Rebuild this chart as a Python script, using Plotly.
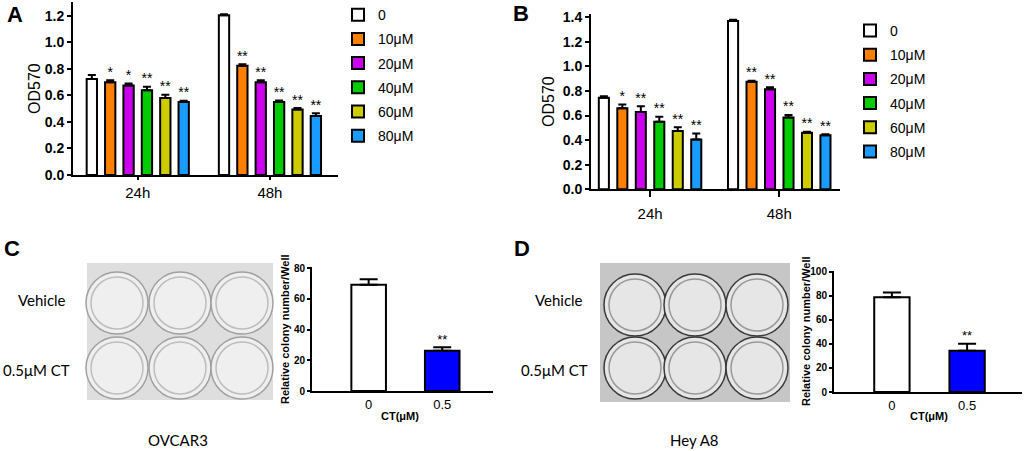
import plotly.graph_objects as go

W, H = 1024, 451

# ---- data -------------------------------------------------------------
doses = ["0", "10μM", "20μM", "40μM", "60μM", "80μM"]
dose_colors = ["#ffffff", "#ff8000", "#cc00ee", "#00cc00", "#cccc00", "#1a9cff"]
times = ["24h", "48h"]

# panel A (OVCAR3), rows = dose, cols = time
a_mean = [[0.725, 1.205], [0.70, 0.825], [0.675, 0.70],
          [0.64, 0.55], [0.58, 0.495], [0.55, 0.445]]
a_err = [[0.03, 0.008], [0.015, 0.01], [0.015, 0.015],
         [0.025, 0.012], [0.025, 0.01], [0.01, 0.02]]
a_stars = [["", ""], ["*", "**"], ["*", "**"], ["**", "**"], ["**", "**"], ["**", "**"]]

# panel B (Hey A8)
b_mean = [[0.745, 1.37], [0.66, 0.875], [0.63, 0.815],
          [0.55, 0.585], [0.475, 0.46], [0.405, 0.44]]
b_err = [[0.012, 0.01], [0.03, 0.008], [0.045, 0.015],
         [0.04, 0.02], [0.03, 0.008], [0.05, 0.008]]
b_stars = a_stars[:1] + [["*", "**"]] + [["**", "**"]] * 4

# panels C / D colony counts
ct_dose = ["0", "0.5"]
ct_colors = ["#ffffff", "#0000ff"]
c_mean = [69.2, 26.3]
c_err = [3.6, 2.2]
d_mean = [78.8, 34.2]
d_err = [4.0, 6.0]
cd_stars = ["", "**"]


def px(x):
    return x / W


def py(y):
    return 1 - y / H


FONT = "Arial, Liberation Sans, sans-serif"
fig = go.Figure()


def grouped(mean, err, stars, xa, ya, leg, slot):
    for i, name in enumerate(doses):
        xs = [g + (i - 2.5) * slot for g in range(len(times))]
        fig.add_trace(go.Bar(
            x=xs, y=mean[i], width=0.078, name=name, xaxis=xa, yaxis=ya,
            marker=dict(color=dose_colors[i], line=dict(color="black", width=2)),
            error_y=dict(type="data", symmetric=False, array=err[i],
                         arrayminus=[0, 0], color="black", thickness=2, width=4),
            legend=leg, legendgroup=leg + name))
        fig.add_trace(go.Scatter(
            x=xs, y=[m + e for m, e in zip(mean[i], err[i])], text=stars[i],
            mode="text", textposition="top center", xaxis=xa, yaxis=ya,
            textfont=dict(size=14, color="black", family=FONT),
            showlegend=False, hoverinfo="skip"))


grouped(a_mean, a_err, a_stars, "x", "y", "legend", 0.139)
grouped(b_mean, b_err, b_stars, "x2", "y2", "legend2", 0.143)


def colony(mean, err, xa, ya):
    fig.add_trace(go.Bar(
        x=[0, 1], y=mean, width=0.47, xaxis=xa, yaxis=ya, showlegend=False,
        marker=dict(color=ct_colors, line=dict(color="black", width=2)),
        error_y=dict(type="data", symmetric=False, array=err,
                     arrayminus=[0, 0], color="black", thickness=2, width=9)))
    fig.add_trace(go.Scatter(
        x=[0, 1], y=[m + e for m, e in zip(mean, err)], text=cd_stars,
        mode="text", textposition="top center", xaxis=xa, yaxis=ya,
        textfont=dict(size=13, color="black", family=FONT),
        showlegend=False, hoverinfo="skip"))


colony(c_mean, c_err, "x3", "y3")
colony(d_mean, d_err, "x4", "y4")

axis_common = dict(showline=True, linecolor="black", linewidth=2, ticks="outside",
                   tickcolor="black", tickwidth=2, showgrid=False, zeroline=False,
                   automargin=False)


def xaxis(x0, x1, anchor, rng, ticktext, size, ticklen, standoff):
    return dict(axis_common, domain=[px(x0), px(x1)], anchor=anchor, range=rng,
                tickvals=list(range(len(ticktext))), ticktext=ticktext, ticklen=ticklen,
                ticklabelstandoff=standoff,
                tickfont=dict(size=size, color="black", family=FONT))


def yaxis(y0, y1, anchor, rng, dtick, size, fmt, ticklen=4):
    return dict(axis_common, domain=[py(y0), py(y1)], anchor=anchor, range=rng,
                dtick=dtick, tickformat=fmt, ticklen=ticklen,
                tickfont=dict(size=size, color="black", family=FONT, weight="bold"))


legend_style = dict(xanchor="left", yanchor="top", font=dict(size=14, family=FONT),
                    bgcolor="rgba(0,0,0,0)", itemclick=False, tracegroupgap=3)

fig.update_layout(
    width=W, height=H, margin=dict(l=0, r=0, t=0, b=0, autoexpand=False),
    paper_bgcolor="white", plot_bgcolor="white", barmode="overlay",
    font=dict(family=FONT, color="black"),
    xaxis=xaxis(73, 338, "y", [-0.49, 1.515], times, 15, 3, 0),
    yaxis=yaxis(175, 2, "x", [0, 1.305], 0.2, 14, ".1f"),
    xaxis2=xaxis(591, 840, "y2", [-0.457, 1.47], times, 15, 6, 4),
    yaxis2=yaxis(189.3, 13.6, "x2", [0, 1.43], 0.2, 14, ".1f"),
    xaxis3=xaxis(312, 493, "y3", [-0.77, 1.69], ct_dose, 13, 0, 0),
    yaxis3=yaxis(391, 266.7, "x3", [0, 81], 20, 10, "d", 3),
    xaxis4=xaxis(834, 1022, "y4", [-0.77, 1.73], ct_dose, 13, 0, 0),
    yaxis4=yaxis(392, 270.5, "x4", [0, 101], 20, 10, "d", 3),
    legend=dict(legend_style, x=px(338), y=1.002),
    legend2=dict(legend_style, x=px(850), y=0.967),
)

# axis titles and panel letters as paper annotations
titles = [
    ("OD570", 35, 89, -90, 16, "normal"),
    ("OD570", 548, 102, -90, 16, "normal"),
    ("Relative colony number/Well", 285, 329, -90, 11, "bold"),
    ("Relative colony number/Well", 806, 331, -90, 11, "bold"),
    ("CT(μM)", 400, 416, 0, 11, "bold"),
    ("CT(μM)", 929, 416, 0, 11, "bold"),
    ("A", 15, 15, 0, 22, "bold"),
    ("B", 521, 14, 0, 22, "bold"),
    ("C", 12, 248, 0, 22, "bold"),
    ("D", 522, 248, 0, 22, "bold"),
]
for text, x, y, angle, size, weight in titles:
    fig.add_annotation(text=text, x=px(x), y=py(y), xref="paper", yref="paper",
                       xanchor="center", yanchor="middle", showarrow=False, textangle=angle,
                       font=dict(size=size, family=FONT, weight=weight, color="black"))

# well plate pictures (drawn as simple shapes)
LABEL_FONT = "Lato, Open Sans, sans-serif"
plates = [
    dict(box=(87, 263, 273, 400), cols=(117, 180, 242), rows=(303, 368), r=31,
         fill="#dedede", well="#efefef", rim="#a0a0a0", inner="#bdbdbd",
         labels=[("Vehicle", 42, 300), ("0.5μM CT", 36, 370), ("OVCAR3", 178, 440)]),
    dict(box=(600, 263, 790, 402), cols=(635, 695, 757), rows=(305, 368), r=31,
         fill="#c6c6c6", well="#e6e6e6", rim="#3a3a3a", inner="#9a9a9a",
         labels=[("Vehicle", 559, 300), ("0.5μM CT", 554, 370), ("Hey A8", 694, 440)]),
]
for p in plates:
    x0, y0, x1, y1 = p["box"]
    fig.add_shape(type="rect", xref="paper", yref="paper", x0=px(x0), x1=px(x1),
                  y0=py(y1), y1=py(y0), fillcolor=p["fill"], line=dict(width=0), layer="below")
    for cy in p["rows"]:
        for cx in p["cols"]:
            for r, col in [(p["r"], p["rim"]), (p["r"] - 5, p["inner"])]:
                fig.add_shape(type="circle", xref="paper", yref="paper",
                              x0=px(cx - r), x1=px(cx + r), y0=py(cy + r), y1=py(cy - r),
                              fillcolor=p["well"], line=dict(color=col, width=1.5),
                              layer="below")
    for text, x, y in p["labels"]:
        fig.add_annotation(text=text, x=px(x), y=py(y), xref="paper", yref="paper",
                           xanchor="center", yanchor="middle", showarrow=False,
                           font=dict(size=15, family=LABEL_FONT, color="black"))

# drop the default 8px page margin so the figure sits at the window corner
fig.write_html("out.html", config={"displayModeBar": False},
               post_script="document.body.style.margin = '0';")
